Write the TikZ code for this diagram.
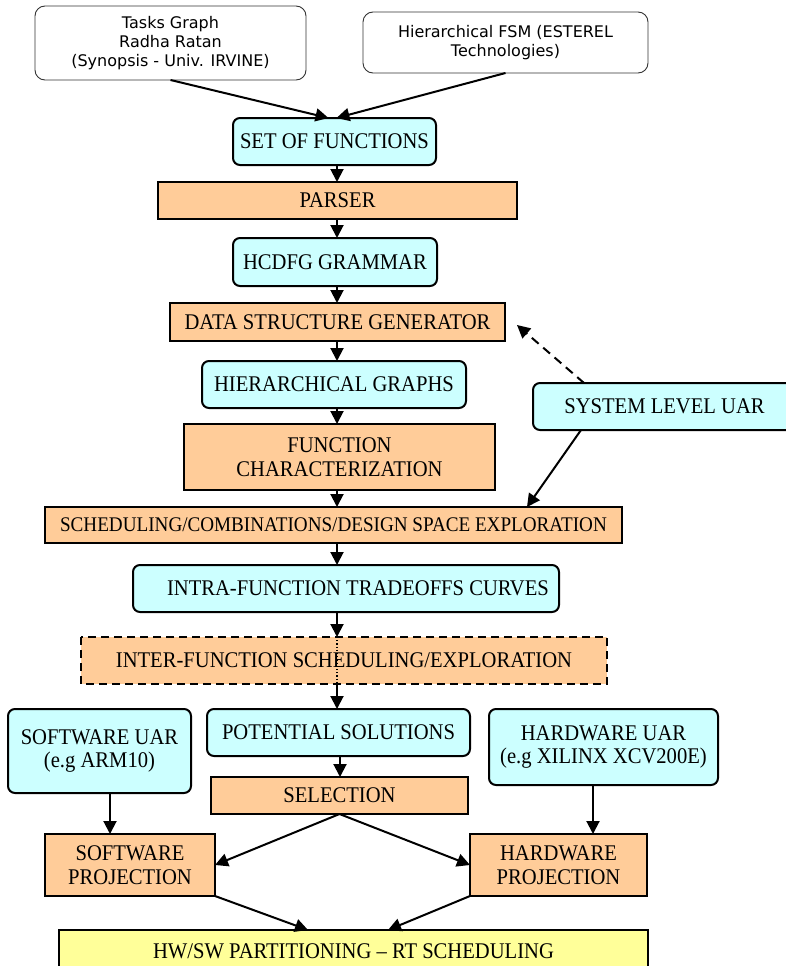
\documentclass[tikz,border=0pt]{standalone}
\usepackage{fontspec}
\setmainfont[FakeStretch=0.92]{Liberation Serif}
\newfontfamily\vfont{DejaVu Sans}
\usetikzlibrary{arrows.meta,calc}
\definecolor{cyanbox}{HTML}{CCFFFF}
\definecolor{orangebox}{HTML}{FFCC99}
\definecolor{yellowbox}{HTML}{FFFF99}
\definecolor{topborder}{HTML}{333333}
\tikzset{
 box/.style={draw=black, line width=2pt, inner sep=0pt, outer sep=0pt, align=center, font=\fontsize{22.4}{23.5}\selectfont},
 cbox/.style={box, fill=cyanbox, rounded corners=7pt},
 obox/.style={box, fill=orangebox},
 ybox/.style={box, fill=yellowbox},
 tbox/.style={draw=topborder, line width=0.9pt, rounded corners=10pt, fill=white, inner sep=0pt, outer sep=0pt, align=center, font=\vfont\fontsize{16}{18.7}\selectfont},
 arr/.style={line width=2pt, -{Triangle[length=13pt,width=13pt]}},
 darr/.style={arr, dash pattern=on 9pt off 6pt},
}
\begin{document}
\begin{tikzpicture}[x=1pt,y=-1pt]
\useasboundingbox (0,0) rectangle (786,966);
\clip (0,0) rectangle (786,966);
\fill[white] (0,0) rectangle (786,966);

\node[tbox, minimum width=271pt, minimum height=74pt] (tasks) at (170.5,43) {Tasks Graph\\Radha Ratan\\(Synopsis - Univ. IRVINE)};
\node[tbox, minimum width=285pt, minimum height=61pt] (fsm) at (505.5,42.5) {Hierarchical FSM (ESTEREL\\Technologies)};

\node[cbox, minimum width=203pt, minimum height=47pt] (setf) at (334.5,141.5) {SET OF FUNCTIONS};
\node[obox, minimum width=359pt, minimum height=37pt] (parser) at (337.5,200.5) {PARSER};
\node[cbox, minimum width=204pt, minimum height=48pt] (hcdfg) at (335,262) {HCDFG GRAMMAR};
\node[obox, minimum width=335pt, minimum height=38pt] (dsg) at (337.5,322) {DATA STRUCTURE GENERATOR};
\node[cbox, minimum width=264pt, minimum height=47pt] (hier) at (334,384.5) {HIERARCHICAL GRAPHS};
\node[cbox, minimum width=263pt, minimum height=47pt] (sysuar) at (664.5,406.5) {SYSTEM LEVEL UAR};
\node[obox, minimum width=311pt, minimum height=66pt] (fc) at (339.5,457) {FUNCTION\\CHARACTERIZATION};
\node[obox, minimum width=577pt, minimum height=36pt, font=\fontsize{20.8}{22}\selectfont] (sched) at (333.5,525) {SCHEDULING/COMBINATIONS/DESIGN SPACE EXPLORATION};
\node[cbox, minimum width=426pt, minimum height=47pt] (intra) at (346,588.5) {\hspace*{24pt}INTRA-FUNCTION TRADEOFFS CURVES};
\node[obox, draw=none, minimum width=526pt, minimum height=47pt] (inter) at (344,660.5) {INTER-FUNCTION SCHEDULING/EXPLORATION};
\draw[line width=2pt, dash pattern=on 8pt off 5pt] (inter.north west) rectangle (inter.south east);
\node[cbox, minimum width=183pt, minimum height=84pt] (swuar) at (99.5,751) {SOFTWARE UAR\\(e.g ARM10)};
\node[cbox, minimum width=263pt, minimum height=47pt] (pot) at (338.5,732.5) {POTENTIAL SOLUTIONS};
\node[cbox, minimum width=229pt, minimum height=76pt] (hwuar) at (603.5,747) {HARDWARE UAR\\(e.g XILINX XCV200E)};
\node[obox, minimum width=257pt, minimum height=37pt] (sel) at (339.5,795.5) {SELECTION};
\node[obox, minimum width=170pt, minimum height=62pt] (swp) at (130,865) {SOFTWARE\\PROJECTION};
\node[obox, minimum width=177pt, minimum height=62pt] (hwp) at (558.5,865) {HARDWARE\\PROJECTION};
\node[ybox, minimum width=589pt, minimum height=42pt] (hwsw) at (353.5,951) {HW/SW PARTITIONING -- RT SCHEDULING};

\coordinate (ax) at (337,0);
\coordinate (px) at (340,0);
\coordinate (swx) at (110,0);
\coordinate (hwx) at (593,0);
\coordinate (dsgtip) at (517,325);

\draw[arr] (tasks.south) -- ([xshift=-6pt]setf.north);
\draw[arr] (fsm.south) -- ([xshift=2pt]setf.north);
\draw[arr] (setf.south -| ax) -- (parser.north -| ax);
\draw[arr] (parser.south -| ax) -- (hcdfg.north -| ax);
\draw[arr] (hcdfg.south -| ax) -- (dsg.north -| ax);
\draw[arr] (dsg.south -| ax) -- (hier.north -| ax);
\draw[arr] (hier.south -| ax) -- (fc.north -| ax);
\draw[arr] (fc.south -| ax) -- (sched.north -| ax);
\draw[arr] (sched.south -| ax) -- (intra.north -| ax);
\draw[darr] ($(sysuar.north west)+(51,0)$) -- (dsgtip);
\draw[arr] ($(sysuar.south west)+(48,0)$) -- ($(sched.north east)+(-95,0)$);
\draw[arr] (intra.south -| ax) -- (inter.north -| ax);
\draw[line width=1.2pt, dotted] (inter.north -| ax) -- (inter.south -| ax);
\draw[arr] (inter.south -| ax) -- (pot.north -| ax);
\draw[arr] (pot.south -| px) -- (sel.north -| px);
\draw[arr] (sel.south) -- (swp.east);
\draw[arr] (sel.south) -- (hwp.west);
\draw[arr] (swuar.south -| swx) -- (swp.north -| swx);
\draw[arr] (hwuar.south -| hwx) -- (hwp.north -| hwx);
\draw[arr] (swp.south east) -- ($(hwsw.north west)+(249,0)$);
\draw[arr] (hwp.south west) -- ($(hwsw.north west)+(329,0)$);
\end{tikzpicture}
\end{document}
